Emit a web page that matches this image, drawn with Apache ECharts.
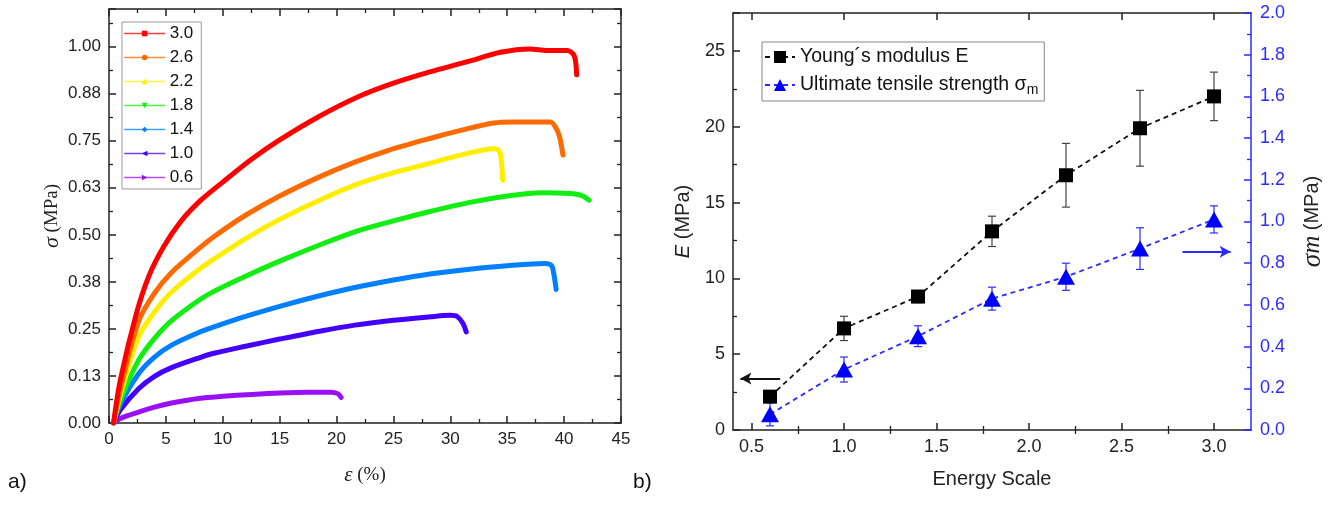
<!DOCTYPE html>
<html><head><meta charset="utf-8">
<script src="https://cdn.jsdelivr.net/npm/echarts@6/dist/echarts.min.js"></script>
<style>html,body{margin:0;padding:0;background:#fff}#c{width:1336px;height:506px}</style>
</head><body><div id="c"></div>
<script>
// ---------- Panel a) stress-strain curves: [strain %, stress MPa] ----------
const curveNames = ['3.0', '2.6', '2.2', '1.8', '1.4', '1.0', '0.6'];
const curve30 = [[0.4,0],[1,0.115],[2.4,0.29],[3.5,0.39],[4.8,0.468],[6.3,0.535],[8,0.59],[10,0.64],[12.5,0.70],[15,0.752],[18.5,0.815],[22,0.868],[25,0.903],[28.2,0.933],[31.5,0.96],[34.4,0.985],[37,0.994],[38.5,0.99],[40.3,0.99],[40.9,0.975],[41.1,0.925]];
const curve26 = [[0.4,0],[1,0.09],[2.6,0.27],[4,0.345],[5.5,0.40],[8,0.466],[9.3,0.497],[12,0.552],[15,0.603],[18.5,0.654],[21.6,0.693],[24.5,0.724],[28.2,0.756],[31,0.778],[33.8,0.797],[35.5,0.80],[38.8,0.80],[39.3,0.783],[39.6,0.76],[39.9,0.712]];
const curve22 = [[0.4,0],[1,0.075],[2.6,0.229],[4,0.295],[5.5,0.348],[8,0.41],[9.3,0.437],[12,0.49],[15,0.541],[18.5,0.592],[21.6,0.632],[25,0.665],[28.2,0.69],[30.8,0.711],[33.8,0.729],[34.3,0.722],[34.5,0.69],[34.6,0.645]];
const curve18 = [[0.4,0],[1,0.06],[2.6,0.167],[4,0.225],[5.5,0.272],[8,0.328],[9.3,0.351],[12,0.39],[15,0.43],[18.5,0.473],[21.6,0.508],[25,0.537],[28.2,0.562],[31.5,0.585],[35,0.603],[38,0.612],[40.5,0.61],[41.5,0.605],[42.2,0.592]];
const curve14 = [[0.4,0],[1,0.05],[2.6,0.131],[4,0.175],[5.5,0.207],[8,0.242],[9.3,0.256],[12,0.283],[15,0.31],[18.5,0.338],[21.6,0.36],[25,0.38],[28.2,0.396],[31.5,0.408],[35,0.418],[38.3,0.424],[38.9,0.418],[39.1,0.395],[39.3,0.355]];
const curve10 = [[0.4,0],[1,0.035],[2.6,0.091],[4,0.124],[5.5,0.147],[8,0.174],[9.3,0.186],[12,0.204],[15,0.223],[18.5,0.244],[21.6,0.26],[25,0.273],[28.2,0.282],[30,0.286],[30.6,0.283],[31.1,0.265],[31.4,0.242]];
const curve06 = [[0.4,0],[1,0.012],[2.6,0.029],[4,0.042],[5.5,0.053],[8,0.066],[10,0.071],[12.5,0.076],[15,0.08],[17.5,0.082],[19.5,0.082],[20.1,0.078],[20.4,0.068]];
const curves = [curve30, curve26, curve22, curve18, curve14, curve10, curve06];
const curveColors = ['#ff0000', '#ff6a00', '#ffee00', '#11ee11', '#0080ff', '#4400ff', '#9a10f5'];
const curveSymbols = ['rect', 'circle', 'triangle', 'triangle', 'diamond', 'triangle', 'triangle'];
const curveSymbolRotate = [0, 0, 0, 180, 0, 90, -90];

// ---------- Panel b) ----------
const energyScale = [0.6, 1.0, 1.4, 1.8, 2.2, 2.6, 3.0];
const youngModulus = [2.2, 6.7, 8.8, 13.1, 16.8, 19.9, 22.0];
const youngModulusErr = [0.3, 0.8, 0.4, 1.0, 2.1, 2.5, 1.6];
const tensileStrength = [0.075, 0.29, 0.45, 0.63, 0.735, 0.87, 1.01];
const tensileStrengthErr = [0.055, 0.06, 0.05, 0.055, 0.065, 0.1, 0.065];
const energyMajorTicks = [0.5, 1.0, 1.5, 2.0, 2.5, 3.0];
const energyMinorTicks = [0.75, 1.25, 1.75, 2.25, 2.75];
const arrowLeft = [[0.655, 3.4], [0.44, 3.4]];
const arrowRight = [[2.83, 0.855], [3.09, 0.855]];

const SANS = '"Liberation Sans", Arial, sans-serif';
const SERIF = '"Liberation Serif", "Times New Roman", serif';
const AX = '#222';
const BLUE = '#2b2bff';

const chart = echarts.init(document.getElementById('c'), null, {renderer: 'canvas'});

function baseAxis(extra) {
  return Object.assign({
    type: 'value',
    axisLine: {show: true, onZero: false, lineStyle: {color: AX, width: 1.5}},
    axisTick: {show: true, inside: true, length: 7, lineStyle: {color: AX, width: 1.5}},
    minorTick: {show: true, splitNumber: 2, length: 4, lineStyle: {color: AX, width: 1.3}},
    axisLabel: {color: '#222', fontSize: 17, fontFamily: SANS, margin: 8},
    splitLine: {show: false},
    minorSplitLine: {show: false}
  }, extra);
}

const xAxes = [
  baseAxis({gridIndex: 0, position: 'bottom', min: 0, max: 45, interval: 5,
    name: '{i|ε} (%)', nameLocation: 'middle', nameGap: 42,
    nameTextStyle: {fontFamily: SERIF, fontSize: 19, color: '#222',
      rich: {i: {fontFamily: SERIF, fontStyle: 'italic', fontSize: 21, color: '#222'}}}}),
  baseAxis({gridIndex: 0, position: 'top', min: 0, max: 45, interval: 5, axisLabel: {show: false}}),
  baseAxis({gridIndex: 1, position: 'bottom', min: 0.4, max: 3.2,
    axisTick: {show: true, inside: true, length: 7, customValues: energyMajorTicks, lineStyle: {color: AX, width: 1.5}},
    minorTick: {show: false},
    axisLabel: {color: '#222', fontSize: 18, fontFamily: SANS, margin: 8, customValues: energyMajorTicks, formatter: v => v.toFixed(1)},
    name: 'Energy Scale', nameLocation: 'middle', nameGap: 39,
    nameTextStyle: {fontFamily: SANS, fontSize: 20, color: '#222'}}),
  baseAxis({gridIndex: 1, position: 'bottom', min: 0.4, max: 3.2, axisLine: {show: false},
    axisTick: {show: true, inside: true, length: 4, customValues: energyMinorTicks, lineStyle: {color: AX, width: 1.3}},
    minorTick: {show: false}, axisLabel: {show: false}}),
  baseAxis({gridIndex: 1, position: 'top', min: 0.4, max: 3.2,
    axisTick: {show: true, inside: true, length: 7, customValues: energyMajorTicks, lineStyle: {color: AX, width: 1.5}},
    minorTick: {show: false}, axisLabel: {show: false}}),
  baseAxis({gridIndex: 1, position: 'top', min: 0.4, max: 3.2, axisLine: {show: false},
    axisTick: {show: true, inside: true, length: 4, customValues: energyMinorTicks, lineStyle: {color: AX, width: 1.3}},
    minorTick: {show: false}, axisLabel: {show: false}})
];

const yAxes = [
  baseAxis({gridIndex: 0, position: 'left', min: 0, max: 1.1, interval: 0.125,
    axisLabel: {color: '#222', fontSize: 17, fontFamily: SANS, margin: 8, showMaxLabel: false, formatter: v => v.toFixed(2)},
    name: '{i|σ} (MPa)', nameLocation: 'middle', nameRotate: 90, nameGap: 46,
    nameTextStyle: {fontFamily: SERIF, fontSize: 19, color: '#222',
      rich: {i: {fontFamily: SERIF, fontStyle: 'italic', fontSize: 22, color: '#222'}}}}),
  baseAxis({gridIndex: 0, position: 'right', min: 0, max: 1.1, interval: 0.125, axisLabel: {show: false}}),
  baseAxis({gridIndex: 1, position: 'left', min: 0, max: 27.5, interval: 5,
    axisLabel: {color: '#222', fontSize: 18, fontFamily: SANS, margin: 8, showMaxLabel: false},
    name: '{i|E} (MPa)', nameLocation: 'middle', nameRotate: 90, nameGap: 40,
    nameTextStyle: {fontFamily: SANS, fontSize: 20, color: '#222',
      rich: {i: {fontFamily: SANS, fontStyle: 'italic', fontSize: 20, color: '#222'}}}}),
  baseAxis({gridIndex: 1, position: 'right', min: 0, max: 2.0, interval: 0.2,
    axisLine: {show: true, onZero: false, lineStyle: {color: BLUE, width: 1.5}},
    axisTick: {show: true, inside: true, length: 7, lineStyle: {color: BLUE, width: 1.5}},
    minorTick: {show: true, splitNumber: 2, length: 4, lineStyle: {color: BLUE, width: 1.3}},
    axisLabel: {color: BLUE, fontSize: 18, fontFamily: SANS, margin: 9, formatter: v => v.toFixed(1)},
    name: '{s|σ}{m|m} (MPa)', nameLocation: 'middle', nameRotate: 90, nameGap: 48,
    nameTextStyle: {fontFamily: SANS, fontSize: 20, color: '#222',
      rich: {s: {fontFamily: SERIF, fontStyle: 'italic', fontSize: 27, color: '#222'},
             m: {fontFamily: SERIF, fontStyle: 'italic', fontSize: 25, color: '#222'}}}})
];

const series = [];
curves.forEach((d, i) => {
  series.push({
    name: curveNames[i], type: 'line', xAxisIndex: 0, yAxisIndex: 0,
    data: d, showSymbol: false, symbol: curveSymbols[i], symbolRotate: curveSymbolRotate[i],
    smooth: 0.3, animation: false, color: curveColors[i],
    lineStyle: {width: 5, color: curveColors[i], cap: 'round', join: 'round'},
    itemStyle: {color: curveColors[i]}, z: 10 - i
  });
});

function errorBarSeries(name, yIdx, values, errs, color) {
  return {
    name: name, type: 'custom', xAxisIndex: 2, yAxisIndex: yIdx, animation: false, z: 1,
    data: energyScale.map((x, i) => [x, values[i], errs[i]]),
    encode: {x: 0, y: 1},
    renderItem: (params, api) => {
      const x = api.value(0), y = api.value(1), e = api.value(2);
      const top = api.coord([x, y + e]), bot = api.coord([x, y - e]);
      const w = 4;
      const st = {stroke: color, lineWidth: 1.2};
      return {type: 'group', children: [
        {type: 'line', shape: {x1: top[0], y1: top[1], x2: bot[0], y2: bot[1]}, style: st},
        {type: 'line', shape: {x1: top[0] - w, y1: top[1], x2: top[0] + w, y2: top[1]}, style: st},
        {type: 'line', shape: {x1: bot[0] - w, y1: bot[1], x2: bot[0] + w, y2: bot[1]}, style: st}
      ]};
    }
  };
}

series.push(errorBarSeries('E err', 2, youngModulus, youngModulusErr, '#444'));
series.push(errorBarSeries('σ err', 3, tensileStrength, tensileStrengthErr, BLUE));
series.push({
  name: 'Young´s modulus E', type: 'line', xAxisIndex: 2, yAxisIndex: 2,
  data: energyScale.map((x, i) => [x, youngModulus[i]]),
  symbol: 'rect', symbolSize: 14, animation: false, z: 5,
  lineStyle: {color: '#111', width: 1.8, type: [5, 4]}, itemStyle: {color: '#000'},
  markLine: {silent: true, animation: false, symbol: ['none', 'arrow'], symbolSize: [9, 11],
    label: {show: false}, lineStyle: {color: '#111', width: 2, type: 'solid'},
    data: [[{coord: arrowLeft[0]}, {coord: arrowLeft[1]}]]}
});
series.push({
  name: 'Ultimate tensile strength σm', type: 'line', xAxisIndex: 2, yAxisIndex: 3,
  data: energyScale.map((x, i) => [x, tensileStrength[i]]),
  symbol: 'triangle', symbolSize: [18, 16], animation: false, z: 5,
  lineStyle: {color: BLUE, width: 1.8, type: [5, 4]}, itemStyle: {color: '#0000ff'},
  markLine: {silent: true, animation: false, symbol: ['none', 'arrow'], symbolSize: [9, 11],
    label: {show: false}, lineStyle: {color: BLUE, width: 2, type: 'solid'},
    data: [[{coord: arrowRight[0]}, {coord: arrowRight[1]}]]}
});

const option = {
  backgroundColor: '#fff',
  animation: false,
  textStyle: {fontFamily: SANS},
  title: [
    {text: 'a)', left: 8, top: 472, padding: 0, textStyle: {fontSize: 21, fontWeight: 'normal', fontFamily: SANS, color: '#111'}},
    {text: 'b)', left: 633, top: 472, padding: 0, textStyle: {fontSize: 21, fontWeight: 'normal', fontFamily: SANS, color: '#111'}}
  ],
  grid: [
    {left: 109, top: 9, width: 512, height: 414},
    {left: 733, top: 13, width: 518, height: 417}
  ],
  legend: [
    {data: curveNames, orient: 'vertical', left: 122, top: 22, padding: [3, 8, 3, 2],
      itemWidth: 40, itemHeight: 7, itemGap: 7, borderColor: '#999', borderWidth: 1,
      selectedMode: false, lineStyle: {width: 1.3, color: 'inherit', opacity: 0.75},
      textStyle: {fontSize: 17, fontFamily: SANS, color: '#111'}},
    {data: ['Young´s modulus E', 'Ultimate tensile strength σm'], orient: 'vertical', left: 762, top: 42,
      padding: [5, 6, 4, 2], itemWidth: 30, itemHeight: 15, itemGap: 8, borderColor: '#888', borderWidth: 1,
      selectedMode: false,
      formatter: n => n === 'Ultimate tensile strength σm' ? 'Ultimate tensile strength σ{sub|m}' : n,
      textStyle: {fontSize: 19.5, fontFamily: SANS, color: '#111',
        rich: {sub: {fontSize: 14, fontFamily: SANS, color: '#111', padding: [10, 0, 0, 0]}}}}
  ],
  xAxis: xAxes,
  yAxis: yAxes,
  series: series
};
chart.setOption(option);
</script></body></html>
